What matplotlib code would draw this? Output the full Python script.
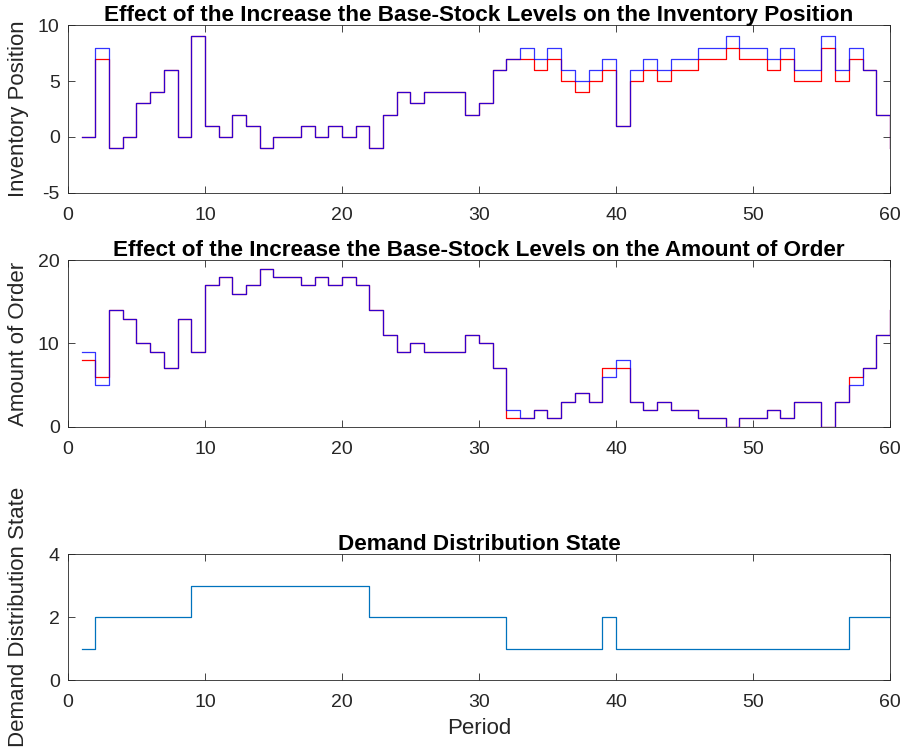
import numpy as np
import matplotlib
matplotlib.use("Agg")
import matplotlib.pyplot as plt

plt.rcParams['font.family'] = ['Liberation Sans', 'DejaVu Sans']
plt.rcParams['axes.unicode_minus'] = False

# periods
period = list(range(1, 61))

# inventory position (red = before, blue = after increase of base-stock levels)
inv_red = [0, 7, -1, 0, 3, 4, 6, 0, 9, 1,
           0, 2, 1, -1, 0, 0, 1, 0, 1, 0,
           1, -1, 2, 4, 3, 4, 4, 4, 2, 3,
           6, 7, 7, 6, 7, 5, 4, 5, 6, 1,
           5, 6, 5, 6, 6, 7, 7, 8, 7, 7,
           6, 7, 5, 5, 8, 5, 7, 6, 2, -1]
inv_blue = [0, 8, -1, 0, 3, 4, 6, 0, 9, 1,
            0, 2, 1, -1, 0, 0, 1, 0, 1, 0,
            1, -1, 2, 4, 3, 4, 4, 4, 2, 3,
            6, 7, 8, 7, 8, 6, 5, 6, 7, 1,
            6, 7, 6, 7, 7, 8, 8, 9, 8, 8,
            7, 8, 6, 6, 9, 6, 8, 6, 2, -1]

# amount of order
ord_red = [8, 6, 14, 13, 10, 9, 7, 13, 9, 17,
           18, 16, 17, 19, 18, 18, 17, 18, 17, 18,
           17, 14, 11, 9, 10, 9, 9, 9, 11, 10,
           7, 1, 1, 2, 1, 3, 4, 3, 7, 7,
           3, 2, 3, 2, 2, 1, 1, 0, 1, 1,
           2, 1, 3, 3, 0, 3, 6, 7, 11, 14]
ord_blue = [9, 5, 14, 13, 10, 9, 7, 13, 9, 17,
            18, 16, 17, 19, 18, 18, 17, 18, 17, 18,
            17, 14, 11, 9, 10, 9, 9, 9, 11, 10,
            7, 2, 1, 2, 1, 3, 4, 3, 6, 8,
            3, 2, 3, 2, 2, 1, 1, 0, 1, 1,
            2, 1, 3, 3, 0, 3, 5, 7, 11, 14]

# demand distribution state
state = [1, 2, 2, 2, 2, 2, 2, 2, 3, 3,
         3, 3, 3, 3, 3, 3, 3, 3, 3, 3,
         3, 2, 2, 2, 2, 2, 2, 2, 2, 2,
         2, 1, 1, 1, 1, 1, 1, 1, 2, 1,
         1, 1, 1, 1, 1, 1, 1, 1, 1, 1,
         1, 1, 1, 1, 1, 1, 2, 2, 2, 2]

axcol = (0.15, 0.15, 0.15)

fig = plt.figure(figsize=(9.03, 7.52), dpi=100)
ax1 = fig.add_axes([0.0753, 0.7437, 0.9103, 0.2227])
ax2 = fig.add_axes([0.0753, 0.4326, 0.9103, 0.2213])
ax3 = fig.add_axes([0.0753, 0.0957, 0.9103, 0.1672])


def style(ax, yticks, ylim):
    ax.set_xlim(0, 60)
    ax.set_xticks([0, 10, 20, 30, 40, 50, 60])
    ax.set_ylim(*ylim)
    ax.set_yticks(yticks)
    ax.tick_params(direction='in', top=True, right=True, length=5,
                   width=0.6, colors=axcol, labelsize=14)
    ax.tick_params(axis='x', pad=10)
    ax.tick_params(axis='y', pad=6)
    for s in ax.spines.values():
        s.set_color(axcol)
        s.set_linewidth(0.6)


ax1.plot(period, inv_red, drawstyle='steps-post', color='r', lw=0.9)
ax1.plot(period, inv_blue, drawstyle='steps-post', color='b', lw=0.9, alpha=0.8)
style(ax1, [-5, 0, 5, 10], (-5, 10))
ax1.set_ylabel('Inventory Position', fontsize=16, color=axcol)
ax1.set_title('Effect of the Increase the Base-Stock Levels on the Inventory Position',
              fontsize=16.2, fontweight='bold', pad=3)

ax2.plot(period, ord_red, drawstyle='steps-post', color='r', lw=0.9)
ax2.plot(period, ord_blue, drawstyle='steps-post', color='b', lw=0.9, alpha=0.8)
style(ax2, [0, 10, 20], (0, 20))
ax2.set_ylabel('Amount of Order', fontsize=16, color=axcol)
ax2.set_title('Effect of the Increase the Base-Stock Levels on the Amount of Order',
              fontsize=16.2, fontweight='bold', pad=3)

ax3.plot(period, state, drawstyle='steps-post', color=(0, 0.447, 0.741), lw=0.9)
style(ax3, [0, 2, 4], (0, 4))
ax3.set_ylabel('Demand Distribution State', fontsize=16, color=axcol)
ax3.set_xlabel('Period', fontsize=16, color=axcol, labelpad=5)
ax3.set_title('Demand Distribution State', fontsize=16.2, fontweight='bold', pad=3)

for ax in (ax1, ax2, ax3):
    ax.yaxis.set_label_coords(-0.047, 0.5)

fig.savefig('out.png', dpi=100)
